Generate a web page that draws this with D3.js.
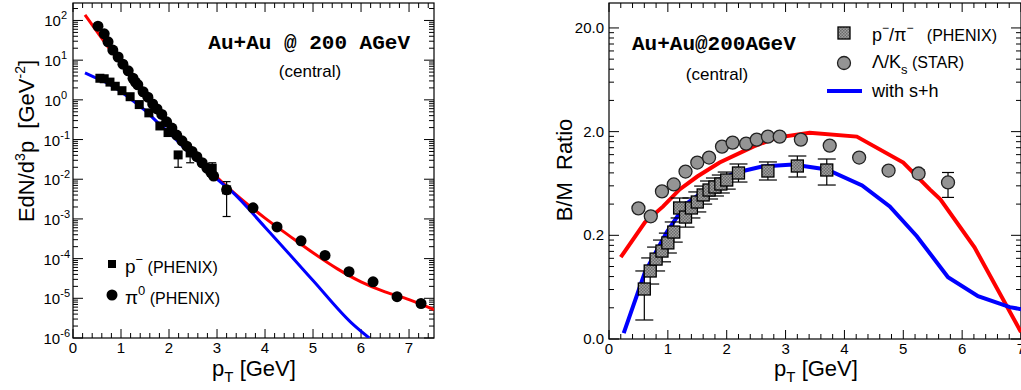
<!DOCTYPE html>
<html>
<head>
<meta charset="utf-8">
<script src="https://cdn.jsdelivr.net/npm/d3@7"></script>
<style>
  body { margin: 0; background: #fff; }
  text { font-family: "Liberation Sans", Arial, sans-serif; fill: #000; }
  text.mono { font-family: "Liberation Mono", "Courier New", monospace; font-weight: bold; }
</style>
</head>
<body>
<div id="chart"></div>
<script>
// ---- left panel: spectra (EdN/d3p vs pT) ----
let piPt   = [0.52,0.65,0.73,0.83,0.94,1.04,1.15,1.25,1.30,1.35,1.46,1.56,1.66,1.75,1.85,1.95,2.06,2.16,2.27,2.37,2.48,2.58,2.69,2.79,2.87,2.93,3.20,3.75,4.25,4.75,5.25,5.75,6.25,6.75,7.25]
let piVal  = [72,46,29,18,12,7.9,5.4,3.5,2.8,2.4,1.6,1.17,0.79,0.59,0.43,0.28,0.195,0.13,0.093,0.068,0.05,0.037,0.026,0.019,0.015,0.012,0.0054,0.0019,0.00063,0.00028,0.00012,4.7e-5,2.6e-5,1.1e-5,7.4e-6]

let pPt    = [0.56,0.65,0.77,0.88,1.02,1.19,1.38,1.58,1.81,1.98,2.19,2.44,2.90,3.20]
let pVal   = [3.5,3.4,2.8,2.2,1.7,1.2,0.76,0.47,0.22,0.15,0.041,0.046,0.019,0.0054]
let pErrLo = [null,null,null,null,null,null,null,null,null,null,0.02,0.026,0.0115,0.00115]
let pErrHi = [null,null,null,null,null,null,null,null,null,null,0.049,0.055,0.026,0.0087]

let redPt   = [0.25,0.5,0.75,1.0,1.25,1.5,1.75,2.0,2.5,3.0,3.5,4.0,4.5,5.0,5.5,6.0,6.5,7.0,7.52]
let redVal  = [138,52,20,8.3,3.5,1.4,0.6,0.25,0.05,0.0112,0.0032,0.00105,0.00038,0.00014,5.6e-5,2.6e-5,1.45e-5,9.3e-6,5.2e-6]
let bluePt  = [0.25,0.5,0.75,1.0,1.25,1.5,1.75,2.0,2.5,3.0,3.3,4.0,5.0,5.8,6.17]
let blueVal = [4.8,3.5,2.5,1.6,0.95,0.54,0.28,0.148,0.037,0.01,0.005,0.00062,2.8e-5,2.4e-6,1e-6]

// ---- right panel: baryon/meson ratio ----
let sqPt    = [0.6,0.7,0.8,0.9,1.0,1.1,1.2,1.3,1.4,1.5,1.6,1.7,1.8,1.9,2.0,2.2,2.7,3.2,3.7]
let sqVal   = [0.0607,0.0906,0.118,0.141,0.169,0.215,0.367,0.300,0.367,0.419,0.490,0.547,0.585,0.625,0.683,0.798,0.834,0.932,0.853]
let sqErrLo = [0.0305,0.0678,0.0906,0.111,0.135,0.172,0.294,0.240,0.294,0.336,0.400,0.448,0.479,0.512,0.558,0.653,0.683,0.730,0.611]
let sqErrHi = [0.0906,0.121,0.154,0.180,0.210,0.269,0.458,0.375,0.458,0.524,0.597,0.668,0.714,0.763,0.815,0.975,1.02,1.164,1.089]

let ciPt    = [0.50,0.71,0.90,1.10,1.30,1.50,1.70,1.92,2.10,2.33,2.51,2.70,2.90,3.26,3.75,4.25,4.75,5.26,5.76]
let ciVal   = [0.364,0.305,0.530,0.619,0.824,1.007,1.125,1.435,1.567,1.534,1.675,1.79,1.79,1.675,1.467,1.125,0.843,0.789,0.647]
let ciErrLo = [null,null,null,null,null,null,null,null,null,null,null,null,null,null,null,null,null,0.73,0.464]
let ciErrHi = [null,null,null,null,null,null,null,null,null,null,null,null,null,null,null,null,null,0.86,0.807]

let rRedPt   = [0.2,0.61,0.92,1.2,1.5,1.88,2.45,2.85,3.41,4.21,5.0,5.45,5.63,6.21,7.0]
let rRedVal  = [0.123,0.267,0.380,0.554,0.738,1.007,1.435,1.75,1.955,1.79,1.007,0.554,0.444,0.153,0.0233]
let rBluePt  = [0.25,0.61,0.98,1.3,1.88,2.17,2.6,3.13,3.7,4.3,4.77,5.23,5.76,6.27,6.81,7.0]
let rBlueVal = [0.0228,0.0881,0.214,0.397,0.690,0.807,0.921,0.964,0.863,0.605,0.380,0.196,0.0789,0.0518,0.0406,0.0388]

let xMajor = [0,1,2,3,4,5,6,7]
let leftYExp = [-6,-5,-4,-3,-2,-1,0,1,2]
let rightYTicks = [0.02,0.2,2,20]

const svg = d3.select("#chart").append("svg")
  .attr("width", 1021).attr("height", 390)

// hatched fill for the ratio squares
let pat = svg.append("defs").append("pattern")
  .attr("id", "hatch").attr("width", 3).attr("height", 3)
  .attr("patternUnits", "userSpaceOnUse")
pat.append("rect").attr("width", 3).attr("height", 3).attr("fill", "#a0a0a0")
pat.append("rect").attr("width", 1.5).attr("height", 1.5).attr("fill", "#6a6a6a")
pat.append("rect").attr("x", 1.5).attr("y", 1.5).attr("width", 1.5).attr("height", 1.5).attr("fill", "#6a6a6a")

function minorsX (xmax) {
  let out = []
  for (let v = 0; v <= xmax + 1e-9; v += 0.2) {
    let r = Math.round(v * 10) / 10
    if (Math.abs(r - Math.round(r)) > 1e-6) out.push(r)
  }
  return out
}

// inward ticks on all four sides
function frameTicks (g, x, y, xMaj, xMin, yMaj, yMin) {
  let [x0, x1] = x.range(), [y1, y0] = y.range()
  let gx = g.append("g").attr("stroke", "#000").attr("stroke-width", 1)
  xMaj.forEach(v => {
    gx.append("line").attr("x1", x(v)).attr("x2", x(v)).attr("y1", y1).attr("y2", y1 - 9)
    gx.append("line").attr("x1", x(v)).attr("x2", x(v)).attr("y1", y0).attr("y2", y0 + 9)
  })
  xMin.forEach(v => {
    gx.append("line").attr("x1", x(v)).attr("x2", x(v)).attr("y1", y1).attr("y2", y1 - 5)
    gx.append("line").attr("x1", x(v)).attr("x2", x(v)).attr("y1", y0).attr("y2", y0 + 5)
  })
  yMaj.forEach(v => {
    gx.append("line").attr("x1", x0).attr("x2", x0 + 10).attr("y1", y(v)).attr("y2", y(v))
    gx.append("line").attr("x1", x1).attr("x2", x1 - 10).attr("y1", y(v)).attr("y2", y(v))
  })
  yMin.forEach(v => {
    gx.append("line").attr("x1", x0).attr("x2", x0 + 5).attr("y1", y(v)).attr("y2", y(v))
    gx.append("line").attr("x1", x1).attr("x2", x1 - 5).attr("y1", y(v)).attr("y2", y(v))
  })
  g.append("rect").attr("x", x0).attr("y", y0).attr("width", x1 - x0).attr("height", y1 - y0)
    .attr("fill", "none").attr("stroke", "#000").attr("stroke-width", 1.2)
  // x labels
  g.append("g").selectAll("text").data(xMaj).enter().append("text")
    .attr("x", d => x(d)).attr("y", y1 + 15).attr("text-anchor", "middle")
    .attr("font-size", 15).text(d => d)
}

function drawErr (g, x, y, pts, lo, hi, cap) {
  pts.forEach((p, i) => {
    if (lo[i] == null) return
    let e = g.append("g").attr("stroke", "#000").attr("stroke-width", 1.2)
    e.append("line").attr("x1", x(p)).attr("x2", x(p)).attr("y1", y(lo[i])).attr("y2", y(hi[i]))
    e.append("line").attr("x1", x(p) - cap).attr("x2", x(p) + cap).attr("y1", y(lo[i])).attr("y2", y(lo[i]))
    e.append("line").attr("x1", x(p) - cap).attr("x2", x(p) + cap).attr("y1", y(hi[i])).attr("y2", y(hi[i]))
  })
}

// ================= left panel =================
let xL = d3.scaleLinear().domain([0, 7.52]).range([73, 434])
let yL = d3.scaleLog().domain([1e-6, Math.pow(10, 2.44)]).range([338, 3])
let gL = svg.append("g")

let lMinor = []
leftYExp.forEach(e => { for (let k = 2; k <= 9; k++) { let v = k * Math.pow(10, e); if (v < yL.domain()[1]) lMinor.push(v) } })
frameTicks(gL, xL, yL, xMajor, minorsX(7.5), leftYExp.map(e => Math.pow(10, e)), lMinor)

let yl = gL.append("g").selectAll("text").data(leftYExp).enter().append("text")
  .attr("x", d => d < 0 ? 70 : 67).attr("y", d => yL(Math.pow(10, d)) + 6)
  .attr("text-anchor", "end").attr("font-size", 15)
yl.append("tspan").text("10")
yl.append("tspan").attr("dy", -7).attr("font-size", 11).text(d => d < 0 ? "-" + (-d) : d)

let line = (x, y) => d3.line().x(d => x(d[0])).y(d => y(d[1]))
gL.append("clipPath").attr("id", "clipL").append("rect")
  .attr("x", 73).attr("y", 3).attr("width", 361).attr("height", 335)

gL.append("path").datum(redPt.map((p, i) => [p, redVal[i]]))
  .attr("d", line(xL, yL).curve(d3.curveMonotoneX)).attr("fill", "none")
  .attr("stroke", "#ff0000").attr("stroke-width", 3).attr("clip-path", "url(#clipL)")
gL.append("path").datum(bluePt.map((p, i) => [p, blueVal[i]]))
  .attr("d", line(xL, yL).curve(d3.curveMonotoneX)).attr("fill", "none")
  .attr("stroke", "#0000ff").attr("stroke-width", 3).attr("clip-path", "url(#clipL)")

drawErr(gL, xL, yL, pPt, pErrLo, pErrHi, 4)
gL.append("g").selectAll("rect").data(pPt).enter().append("rect")
  .attr("x", (d) => xL(d) - 4.5).attr("y", (d, i) => yL(pVal[i]) - 4.5)
  .attr("width", 9).attr("height", 9).attr("fill", "#000")
gL.append("g").selectAll("circle").data(piPt).enter().append("circle")
  .attr("cx", d => xL(d)).attr("cy", (d, i) => yL(piVal[i])).attr("r", 5.5).attr("fill", "#000")

// axis titles + labels
gL.append("text").attr("transform", "translate(34,141) rotate(-90)")
  .attr("text-anchor", "middle").attr("font-size", 22)
  .html('EdN/d<tspan dy="-9" font-size="14">3</tspan><tspan dy="9">p  [GeV</tspan><tspan dy="-9" font-size="14">-2</tspan><tspan dy="9">]</tspan>')
  .style("white-space", "pre")
gL.append("text").attr("x", 254).attr("y", 376).attr("text-anchor", "middle").attr("font-size", 22)
  .html('p<tspan dy="6" font-size="15">T</tspan><tspan dy="-6"> [GeV]</tspan>')

gL.append("text").attr("class", "mono").attr("x", 410).attr("y", 49).attr("text-anchor", "end")
  .attr("font-size", 21).style("white-space", "pre").text("Au+Au @ 200 AGeV")
gL.append("text").attr("x", 310).attr("y", 77).attr("text-anchor", "middle").attr("font-size", 17).text("(central)")

gL.append("rect").attr("x", 108).attr("y", 260).attr("width", 8).attr("height", 8).attr("fill", "#000")
gL.append("circle").attr("cx", 112).attr("cy", 295).attr("r", 5.5).attr("fill", "#000")
gL.append("text").attr("x", 125).attr("y", 273).attr("font-size", 19).style("white-space", "pre")
  .html('p<tspan dy="-9" font-size="13">−</tspan><tspan dy="9" font-size="16"> (PHENIX)</tspan>')
gL.append("text").attr("x", 125).attr("y", 304).attr("font-size", 19).style("white-space", "pre")
  .html('π<tspan dy="-9" font-size="13">0</tspan><tspan dy="9" font-size="16"> (PHENIX)</tspan>')

// ================= right panel =================
let xR = d3.scaleLinear().domain([0, 7]).range([609, 1021])
let yR = d3.scaleLog().domain([0.02, 34.8]).range([339, 3])
let gR = svg.append("g")

let rMinor = []
rightYTicks.forEach(m => { for (let k = 2; k <= 9; k++) { let v = k * m; if (v < 20) rMinor.push(v) } })
frameTicks(gR, xR, yR, xMajor, minorsX(7), rightYTicks, rMinor)

gR.append("g").selectAll("text").data(rightYTicks).enter().append("text")
  .attr("x", 604).attr("y", d => yR(d) + 5).attr("text-anchor", "end").attr("font-size", 15)
  .text(d => d3.format(".1f")(d))

gR.append("clipPath").attr("id", "clipR").append("rect")
  .attr("x", 609).attr("y", 3).attr("width", 412).attr("height", 336)
gR.append("path").datum(rRedPt.map((p, i) => [p, rRedVal[i]]))
  .attr("d", line(xR, yR)).attr("fill", "none")
  .attr("stroke", "#ff0000").attr("stroke-width", 4).attr("clip-path", "url(#clipR)")
gR.append("path").datum(rBluePt.map((p, i) => [p, rBlueVal[i]]))
  .attr("d", line(xR, yR)).attr("fill", "none")
  .attr("stroke", "#0000ff").attr("stroke-width", 4).attr("clip-path", "url(#clipR)")

drawErr(gR, xR, yR, sqPt, sqErrLo, sqErrHi, 9)
drawErr(gR, xR, yR, ciPt, ciErrLo, ciErrHi, 6)
gR.append("g").selectAll("circle").data(ciPt).enter().append("circle")
  .attr("cx", d => xR(d)).attr("cy", (d, i) => yR(ciVal[i])).attr("r", 6.5)
  .attr("fill", "#949494").attr("stroke", "#222").attr("stroke-width", 1.3)
gR.append("g").selectAll("rect").data(sqPt).enter().append("rect")
  .attr("x", d => xR(d) - 6).attr("y", (d, i) => yR(sqVal[i]) - 6)
  .attr("width", 12).attr("height", 12)
  .attr("fill", "url(#hatch)").attr("stroke", "#000").attr("stroke-width", 1.3)

gR.append("text").attr("transform", "translate(572,170) rotate(-90)")
  .attr("text-anchor", "middle").attr("font-size", 22).style("white-space", "pre").text("B/M  Ratio")
gR.append("text").attr("x", 816).attr("y", 376).attr("text-anchor", "middle").attr("font-size", 22)
  .html('p<tspan dy="6" font-size="15">T</tspan><tspan dy="-6"> [GeV]</tspan>')

gR.append("text").attr("class", "mono").attr("x", 632).attr("y", 50)
  .attr("font-size", 21).text("Au+Au@200AGeV")
gR.append("text").attr("x", 717).attr("y", 80).attr("text-anchor", "middle").attr("font-size", 17).text("(central)")

// legend
gR.append("rect").attr("x", 838).attr("y", 27).attr("width", 12).attr("height", 12)
  .attr("fill", "url(#hatch)").attr("stroke", "#000").attr("stroke-width", 1.3)
gR.append("circle").attr("cx", 844).attr("cy", 63).attr("r", 6.5)
  .attr("fill", "#949494").attr("stroke", "#222").attr("stroke-width", 1.3)
gR.append("line").attr("x1", 827).attr("x2", 862).attr("y1", 91).attr("y2", 91)
  .attr("stroke", "#0000ff").attr("stroke-width", 4)
gR.append("text").attr("x", 872).attr("y", 41).attr("font-size", 18).style("white-space", "pre")
  .html('p<tspan dy="-9" font-size="12">−</tspan><tspan dy="9">/π</tspan><tspan dy="-9" font-size="12">−</tspan><tspan dy="9" font-size="16">   (PHENIX)</tspan>')
gR.append("text").attr("x", 872).attr("y", 68).attr("font-size", 18).style("white-space", "pre")
  .html('Λ/K<tspan dy="6" font-size="13">s</tspan><tspan dy="-6" font-size="16"> (STAR)</tspan>')
gR.append("text").attr("x", 872).attr("y", 97).attr("font-size", 18).text("with s+h")
</script>
</body>
</html>
